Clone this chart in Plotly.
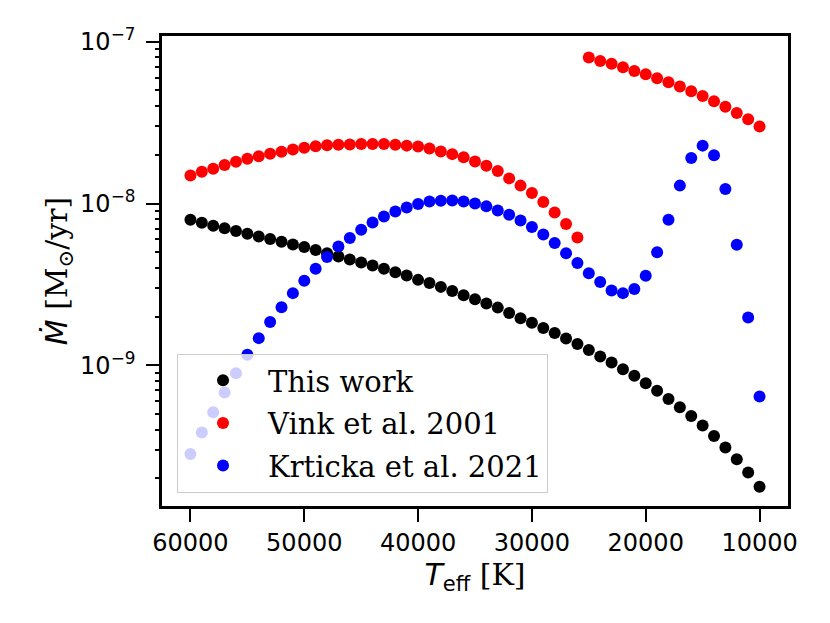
import plotly.graph_objects as go

# effective temperatures [K]
teff = list(range(60000, 9000, -1000))

# mass-loss rates [Msun/yr]
mdot_this_work = [
    7.94e-9, 7.61e-9, 7.29e-9, 7.02e-9, 6.76e-9, 6.51e-9, 6.26e-9, 6.03e-9, 5.80e-9, 5.58e-9,
    5.38e-9, 5.15e-9, 4.93e-9, 4.70e-9, 4.51e-9, 4.32e-9, 4.14e-9, 3.95e-9, 3.76e-9, 3.59e-9,
    3.37e-9, 3.22e-9, 3.05e-9, 2.88e-9, 2.71e-9, 2.56e-9, 2.41e-9, 2.27e-9, 2.10e-9, 1.95e-9,
    1.83e-9, 1.70e-9, 1.58e-9, 1.46e-9, 1.35e-9, 1.24e-9, 1.13e-9, 1.04e-9, 9.45e-10, 8.59e-10,
    7.74e-10, 6.94e-10, 6.18e-10, 5.49e-10, 4.85e-10, 4.23e-10, 3.65e-10, 3.10e-10, 2.62e-10,
    2.17e-10, 1.77e-10,
]

mdot_vink = [
    1.49e-8, 1.57e-8, 1.64e-8, 1.73e-8, 1.81e-8, 1.89e-8, 1.96e-8, 2.03e-8, 2.09e-8, 2.16e-8,
    2.21e-8, 2.26e-8, 2.29e-8, 2.31e-8, 2.32e-8, 2.33e-8, 2.33e-8, 2.33e-8, 2.31e-8, 2.28e-8,
    2.25e-8, 2.19e-8, 2.10e-8, 2.02e-8, 1.93e-8, 1.82e-8, 1.71e-8, 1.59e-8, 1.43e-8, 1.29e-8,
    1.16e-8, 1.02e-8, 8.81e-9, 7.47e-9, 6.17e-9,
    8.00e-8, 7.62e-8, 7.31e-8, 6.97e-8, 6.61e-8, 6.30e-8, 5.96e-8, 5.62e-8, 5.29e-8, 4.94e-8,
    4.63e-8, 4.29e-8, 3.96e-8, 3.63e-8, 3.32e-8, 2.99e-8,
]

mdot_krticka = [
    2.82e-10, 3.83e-10, 5.12e-10, 6.77e-10, 8.91e-10, 1.16e-9, 1.47e-9, 1.85e-9, 2.28e-9, 2.79e-9,
    3.33e-9, 3.95e-9, 4.66e-9, 5.42e-9, 6.11e-9, 6.88e-9, 7.64e-9, 8.32e-9, 8.93e-9, 9.46e-9,
    9.93e-9, 1.03e-8, 1.04e-8, 1.045e-8, 1.03e-8, 1.00e-8, 9.60e-9, 9.06e-9, 8.53e-9, 7.86e-9,
    7.15e-9, 6.44e-9, 5.69e-9, 4.93e-9, 4.28e-9, 3.70e-9, 3.27e-9, 2.90e-9, 2.79e-9, 2.96e-9,
    3.57e-9, 4.99e-9, 7.94e-9, 1.29e-8, 1.91e-8, 2.28e-8, 1.99e-8, 1.23e-8, 5.56e-9, 1.97e-9,
    6.40e-10,
]

x_ticks = [60000, 50000, 40000, 30000, 20000, 10000]
y_ticks = [1e-9, 1e-8, 1e-7]
y_ticktext = ["10<sup>\u22129</sup>", "10<sup>\u22128</sup>", "10<sup>\u22127</sup>"]
# minor log ticks 2..9 of each decade
y_minor = [m * 10.0 ** e for e in (-10, -9, -8) for m in range(2, 10)]

y_range = [-9.871, -6.964]

serif = "DejaVu Serif"
sans = "DejaVu Sans"

fig = go.Figure()
series = [
    ("This work", mdot_this_work, "#000000"),
    ("Vink et al. 2001", mdot_vink, "#ff0000"),
    ("Krticka et al. 2021", mdot_krticka, "#0000ff"),
]
for name, vals, col in series:
    fig.add_trace(go.Scatter(x=teff, y=vals, mode="markers", name=name,
                             legendgroup=name,
                             marker=dict(color=col, size=12, line=dict(width=0))))

# empty trace so the overlay axis carrying the minor ticks gets drawn
fig.add_trace(go.Scatter(x=[None], y=[None], yaxis="y2", showlegend=False,
                         hoverinfo="skip"))

# page body has an 8px margin, so margins are shifted by that
fig.update_layout(
    width=830, height=623,
    margin=dict(l=154, r=50, t=28, b=125),
    plot_bgcolor="white", paper_bgcolor="white",
    font=dict(family=serif, size=24, color="black"),
    legend=dict(x=0.024, y=0.028, xanchor="left", yanchor="bottom",
                bgcolor="rgba(255,255,255,0.8)", bordercolor="#cccccc", borderwidth=1,
                font=dict(family=serif, size=29), traceorder="grouped",
                tracegroupgap=2, itemwidth=80),
    xaxis=dict(
        range=[62500, 7500], tickvals=x_ticks, ticktext=[str(t) for t in x_ticks],
        showgrid=False, zeroline=False,
        showline=True, linecolor="black", linewidth=2.6, mirror=True,
        ticks="outside", ticklen=13, tickwidth=2.4, tickcolor="black",
        tickfont=dict(family=sans, size=24),
        title=dict(text="<span style=\"font-family:DejaVu Sans\"><i>T</i><sub>eff</sub></span> [K]",
                   font=dict(family=serif, size=30), standoff=4),
    ),
    yaxis=dict(
        type="log", range=y_range, tickvals=y_ticks, ticktext=y_ticktext,
        showgrid=False, zeroline=False,
        showline=True, linecolor="black", linewidth=2.6, mirror=True,
        ticks="outside", ticklen=13, tickwidth=2.4, tickcolor="black",
        tickfont=dict(family=sans, size=24), ticklabelstandoff=6,
        title=dict(text="<span style=\"font-family:DejaVu Sans\"><i>\u1e40</i></span> [M<sub>\u2299</sub>/yr]",
                   font=dict(family=serif, size=30), standoff=4),
    ),
    yaxis2=dict(type="log", range=y_range, overlaying="y", side="left",
                tickvals=y_minor, showticklabels=False, showgrid=False,
                zeroline=False, showline=False,
                ticks="outside", ticklen=6, tickwidth=2.0, tickcolor="black"),
)

fig.write_html("out.html")
